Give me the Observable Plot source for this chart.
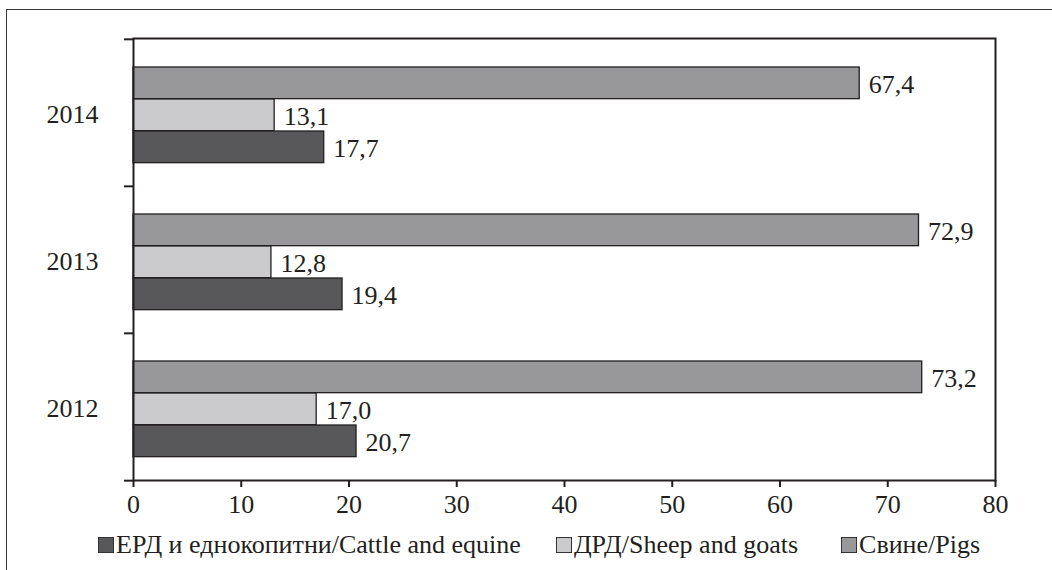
<!DOCTYPE html>
<html>
<head>
<meta charset="utf-8">
<script src="https://cdn.jsdelivr.net/npm/d3@7"></script>
<script src="https://cdn.jsdelivr.net/npm/@observablehq/plot@0.6"></script>
<style>
  html, body { margin: 0; padding: 0; background: #fff; }
  #wrap { position: relative; width: 1052px; height: 570px; overflow: hidden; font-family: "Liberation Serif", "Times New Roman", serif; color: #231f20; }
  #outer { position: absolute; left: 6px; top: 9px; right: -10px; bottom: -10px; border-left: 1.3px solid #3a3a3a; border-top: 1.3px solid #3a3a3a; pointer-events: none; }
  #chart { position: absolute; left: 0; top: 0; }
  #legend { position: absolute; left: 98px; top: 531px; display: flex; align-items: center; font-size: 26px; line-height: 28px; white-space: nowrap; }
  .item { display: flex; align-items: center; }
  .sw { width: 14px; height: 14px; border: 1px solid #333; margin-right: 2px; box-sizing: content-box; }
</style>
</head>
<body>
<div id="wrap">
  <div id="outer"></div>
  <div id="chart"></div>
  <div id="legend"></div>
</div>
<script>
// ---- data ----
const years = ["2014", "2013", "2012"];
const seriesNames = ["ЕРД и еднокопитни/Cattle and equine", "ДРД/Sheep and goats", "Свине/Pigs"];
const cattle = [17.7, 19.4, 20.7];
const sheep = [13.1, 12.8, 17.0];
const pigs = [67.4, 72.9, 73.2];
const xTicks = [0, 10, 20, 30, 40, 50, 60, 70, 80];
const colors = ["#58585a", "#cbcbcd", "#98989a"];

const fmt = v => d3.format(".1f")(v).replace(".", ",");
const rows = vals => years.map((y, i) => ({year: y, value: vals[i]}));

const W = 1052, H = 525;
const mTop = 38, mBottom = 45, mLeft = 133, mRight = 57;
const band = (H - mTop - mBottom) / years.length;
const barH = 32, gapTop = 28;
const font = "'Liberation Serif', 'Times New Roman', serif";
const ink = "#231f20";
const fs = 26;

// series order within each year band (top to bottom): pigs, sheep, cattle
const layers = [
  {data: rows(pigs), fill: colors[2], slot: 0},
  {data: rows(sheep), fill: colors[1], slot: 1},
  {data: rows(cattle), fill: colors[0], slot: 2}
];

const marks = [];
for (const L of layers) {
  const top = gapTop + L.slot * barH;
  const bottom = band - top - barH;
  marks.push(Plot.barX(L.data, {x: "value", y: "year", fill: L.fill, stroke: ink, strokeWidth: 1.3, insetTop: top, insetBottom: bottom}));
  marks.push(Plot.text(L.data, {x: "value", y: "year", text: d => fmt(d.value), textAnchor: "start", dx: 9, dy: (top + barH / 2) - band / 2 + 1, fill: ink, fontSize: fs, fontFamily: font}));
}

const plot = Plot.plot({
  width: W,
  height: H,
  marginTop: mTop,
  marginBottom: mBottom,
  marginLeft: mLeft,
  marginRight: mRight,
  style: {fontFamily: font, color: ink, background: "transparent", overflow: "visible"},
  x: {domain: [0, 80], axis: null, label: null},
  y: {domain: years, padding: 0, axis: null, label: null},
  marks: [
    ...marks,
    Plot.frame({stroke: ink, strokeWidth: 2}),
    Plot.axisX(xTicks, {tickSize: 7, tickPadding: 7, fontSize: fs, fontFamily: font, strokeWidth: 2, stroke: ink, fill: ink, label: null, tickFormat: d => String(d)}),
    Plot.axisY({tickSize: 0, tickPadding: 35, fontSize: fs, fontFamily: font, dy: 2, fill: ink, label: null}),
    Plot.axisY({text: null, tickSize: 9, strokeWidth: 2, stroke: ink, dy: -band / 2, label: null}),
    Plot.axisY([years[years.length - 1]], {text: null, tickSize: 9, strokeWidth: 2, stroke: ink, dy: band / 2, label: null})
  ]
});
document.getElementById("chart").appendChild(plot);

// legend
const legend = document.getElementById("legend");
const gaps = [35, 43, 0];
seriesNames.forEach((name, i) => {
  const it = document.createElement("div");
  it.className = "item";
  it.style.marginRight = gaps[i] + "px";
  const sw = document.createElement("span");
  sw.className = "sw";
  sw.style.background = colors[i];
  const tx = document.createElement("span");
  tx.textContent = name;
  it.appendChild(sw);
  it.appendChild(tx);
  legend.appendChild(it);
});
</script>
</body>
</html>
